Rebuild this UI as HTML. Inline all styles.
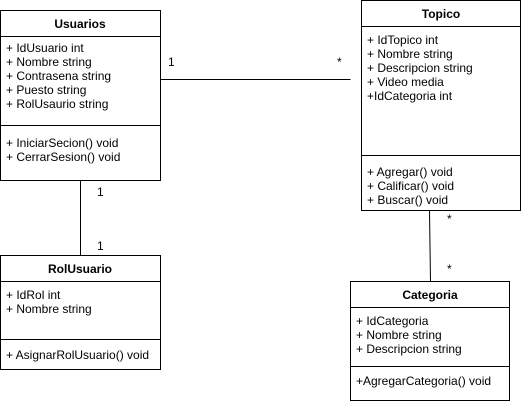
<!DOCTYPE html>
<html><head><meta charset="utf-8"><style>
html,body{margin:0;padding:0;background:#fff;}
svg{display:block;}
text{font-family:"Liberation Sans",Helvetica,Arial,sans-serif;font-size:12px;fill:#000;}
.t{font-weight:bold;}
</style></head><body>
<svg width="521" height="404" viewBox="0 0 521 404" xmlns="http://www.w3.org/2000/svg">
<g fill="#fff" stroke="#000" stroke-width="1">
<rect x="0.5" y="10.5" width="160" height="170"/>
<line x1="0.5" y1="36.5" x2="160.5" y2="36.5"/>
<line x1="0.5" y1="125.5" x2="160.5" y2="125.5"/>
<rect x="361.5" y="0.5" width="159" height="210"/>
<line x1="361.5" y1="26.5" x2="520.5" y2="26.5"/>
<line x1="361.5" y1="155.5" x2="520.5" y2="155.5"/>
<rect x="0.5" y="255.5" width="160" height="114"/>
<line x1="0.5" y1="281.5" x2="160.5" y2="281.5"/>
<line x1="0.5" y1="339.5" x2="160.5" y2="339.5"/>
<rect x="350.5" y="281.5" width="159" height="119"/>
<line x1="350.5" y1="307.5" x2="509.5" y2="307.5"/>
<line x1="350.5" y1="366.5" x2="509.5" y2="366.5"/>
<line x1="160.5" y1="79.5" x2="350.5" y2="79.5"/>
<line x1="80.5" y1="180.5" x2="80.5" y2="255.5"/>
<line x1="429.5" y1="210.5" x2="430.5" y2="281.5"/>
</g>
<text class="t" x="80" y="28" text-anchor="middle">Usuarios</text>
<text x="6" y="52">+ IdUsuario int</text>
<text x="6" y="66">+ Nombre string</text>
<text x="6" y="80">+ Contrasena string</text>
<text x="6" y="94">+ Puesto string</text>
<text x="6" y="108">+ RolUsaurio string</text>
<text x="6" y="147">+ IniciarSecion() void</text>
<text x="6" y="161">+ CerrarSesion() void</text>

<text class="t" x="441" y="18" text-anchor="middle">Topico</text>
<text x="367" y="44">+ IdTopico int</text>
<text x="367" y="58">+ Nombre string</text>
<text x="367" y="72">+ Descripcion string</text>
<text x="367" y="86">+ Video media</text>
<text x="367" y="100">+IdCategoria int</text>
<text x="367" y="176">+ Agregar() void</text>
<text x="367" y="190">+ Calificar() void</text>
<text x="367" y="204">+ Buscar() void</text>

<text class="t" x="80" y="273" text-anchor="middle">RolUsuario</text>
<text x="6" y="299">+ IdRol int</text>
<text x="6" y="313">+ Nombre string</text>
<text x="6" y="359">+ AsignarRolUsuario() void</text>

<text class="t" x="430" y="299" text-anchor="middle">Categoria</text>
<text x="356" y="325">+ IdCategoria</text>
<text x="356" y="339">+ Nombre string</text>
<text x="356" y="353">+ Descripcion string</text>
<text x="356" y="385">+AgregarCategoria() void</text>

<text x="168" y="66">1</text>
<text x="337" y="66">*</text>
<text x="97" y="196">1</text>
<text x="97" y="250">1</text>
<text x="447" y="223">*</text>
<text x="447" y="273">*</text>
</svg>
</body></html>
